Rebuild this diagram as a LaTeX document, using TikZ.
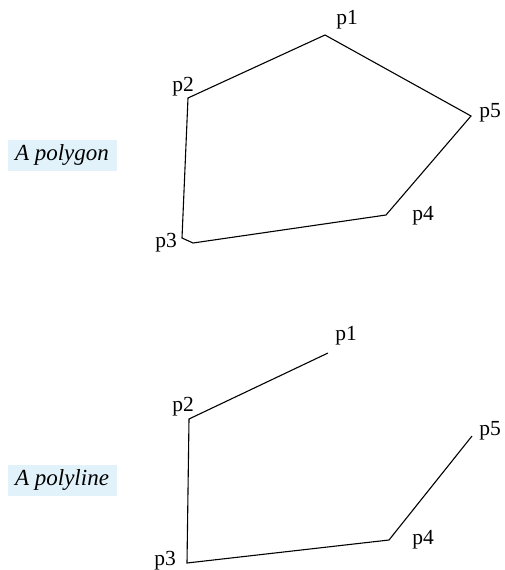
\documentclass[tikz,border=0pt]{standalone}
\usepackage{fontspec}
\setmainfont{Liberation Serif}
\definecolor{tagblue}{RGB}{225,242,250}
\tikzset{
  shapeline/.style={line width=1.1pt, black, line join=miter},
  ptlabel/.style={font=\fontsize{21.5}{21.5}\selectfont, inner sep=0pt},
  kindtag/.style={fill=tagblue, font=\fontsize{23}{23}\selectfont\itshape,
    minimum width=109pt, minimum height=31pt, inner sep=0pt}
}
\begin{document}
\begin{tikzpicture}[x=1pt, y=-1pt]

    \useasboundingbox (0, 0) rectangle (505, 570);

    % 1. Các đỉnh của đa giác (polygon)
    \coordinate (G1)  at (325, 35);
    \coordinate (G2)  at (188, 98);
    \coordinate (G3)  at (182, 238);
    \coordinate (G3b) at (193, 243); % góc gãy nhỏ tại p3
    \coordinate (G4)  at (386, 215);
    \coordinate (G5)  at (471, 116);

    % 2. Các đỉnh của đường gấp khúc (polyline)
    \coordinate (L1) at (328, 353);
    \coordinate (L2) at (189, 419);
    \coordinate (L3) at (187, 563);
    \coordinate (L4) at (389, 540);
    \coordinate (L5) at (472, 436);

    % 3. Vẽ đa giác khép kín
    \draw[shapeline] (G1) -- (G2) -- (G3) -- (G3b) -- (G4) -- (G5) -- cycle;

    % 4. Vẽ đường gấp khúc hở
    \draw[shapeline] (L1) -- (L2) -- (L3) -- (L4) -- (L5);

    % 5. Nhãn các đỉnh
    \node[ptlabel] (g1) at (347, 20)  {p1};
    \node[ptlabel] (g2) at (183, 87)  {p2};
    \node[ptlabel] (g3) at (166, 243) {p3};
    \node[ptlabel] (g4) at (423, 216) {p4};
    \node[ptlabel] (g5) at (490, 113) {p5};

    \node[ptlabel] (l1) at (346, 336) {p1};
    \node[ptlabel] (l2) at (183, 407) {p2};
    \node[ptlabel] (l3) at (165, 561) {p3};
    \node[ptlabel] (l4) at (423, 540) {p4};
    \node[ptlabel] (l5) at (490, 431) {p5};

    % 6. Tên hai hình
    \node[kindtag] (polygon)  at (62, 155) {A polygon};
    \node[kindtag] (polyline) at (62, 480) {A polyline};

\end{tikzpicture}
\end{document}
